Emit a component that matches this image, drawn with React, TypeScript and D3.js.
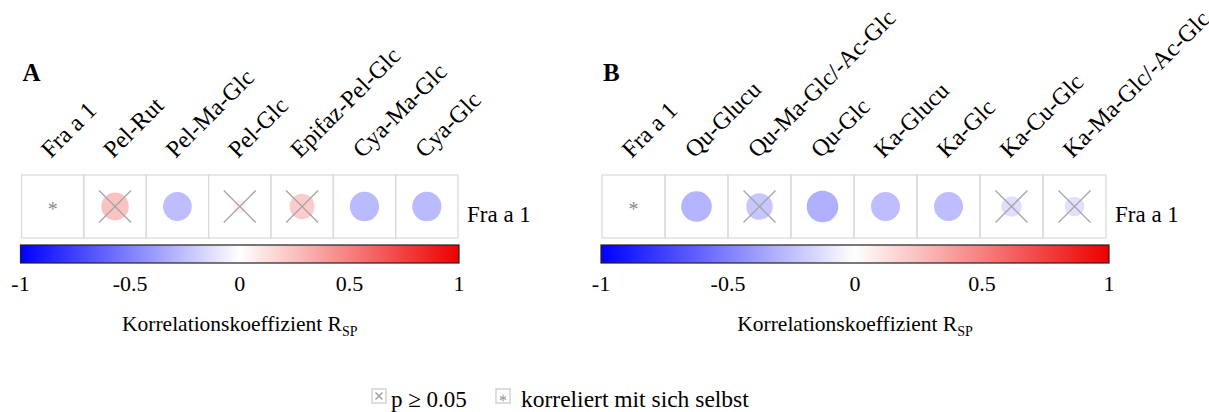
import React from "react";
import * as d3 from "d3";

const labelsA = ["Fra a 1", "Pel-Rut", "Pel-Ma-Glc", "Pel-Glc", "Epifaz-Pel-Glc", "Cya-Ma-Glc", "Cya-Glc"];
const valuesA = [1, 0.24, -0.26, 0.06, 0.2, -0.27, -0.27];
const statusA = ["self", "ns", "sig", "ns", "ns", "sig", "sig"];

const labelsB = ["Fra a 1", "Qu-Glucu", "Qu-Ma-Glc/-Ac-Glc", "Qu-Glc", "Ka-Glucu", "Ka-Glc", "Ka-Cu-Glc", "Ka-Ma-Glc/-Ac-Glc"];
const valuesB = [1, -0.29, -0.22, -0.31, -0.26, -0.26, -0.13, -0.12];
const statusB = ["self", "sig", "ns", "sig", "sig", "sig", "ns", "ns"];

const rowLabel = "Fra a 1";
const colorTicks = [-1, -0.5, 0, 0.5, 1];
const tickLabels = ["-1", "-0.5", "0", "0.5", "1"];

const FONT = "'Liberation Serif', 'Times New Roman', serif";
const color = d3.scaleLinear<string>().domain([-1, 0, 1]).range(["#0000FF", "#FFFFFF", "#EE0000"]).interpolate(d3.interpolateRgb);

type PanelProps = {
  id: string;
  letter: string;
  labels: string[];
  values: number[];
  status: string[];
  left: number;
  right: number;
  barRight: number;
};

function Panel({ id, letter, labels, values, status, left, right, barRight }: PanelProps) {
  const top = 175;
  const bottom = 238;
  const x = d3.scaleBand<string>().domain(labels).range([left, right]);
  const cw = x.bandwidth();
  const ch = bottom - top;
  const cy = (top + bottom) / 2;
  const cb = d3.scaleLinear().domain([-1, 1]).range([left - 1, barRight]);
  const gradId = "grad" + id;
  const stops = d3.range(0, 1.0001, 0.05);
  return (
    <g>
      <defs>
        <linearGradient id={gradId} x1="0" x2="1" y1="0" y2="0">
          {stops.map((s, i) => (
            <stop key={i} offset={s} stopColor={color(-1 + 2 * s)} />
          ))}
        </linearGradient>
      </defs>
      <text x={left + 1} y={81} fontFamily={FONT} fontWeight="bold" fontSize={25}>
        {letter}
      </text>
      {labels.map((l, i) => {
        const cx = (x(l) as number) + cw / 2;
        const tx = cx - 2;
        const ty = top - 16;
        return (
          <text key={"l" + i} x={tx} y={ty} fontFamily={FONT} fontSize={24} transform={`rotate(-45 ${tx} ${ty})`}>
            {l}
          </text>
        );
      })}
      {labels.map((l, i) => {
        const cx = (x(l) as number) + cw / 2;
        const v = values[i];
        const st = status[i];
        const rx = cw * 0.45 * Math.sqrt(Math.abs(v));
        const ry = ch * 0.45 * Math.sqrt(Math.abs(v));
        const h = 16;
        return (
          <g key={"c" + i}>
            {st !== "self" && <ellipse cx={cx} cy={cy} rx={rx} ry={ry} fill={color(v)} />}
            {st === "ns" && (
              <g stroke="#a6a6a6" strokeWidth={1.3}>
                <line x1={cx - h} y1={cy - h} x2={cx + h} y2={cy + h} />
                <line x1={cx - h} y1={cy + h} x2={cx + h} y2={cy - h} />
              </g>
            )}
            {st === "self" && (
              <text x={cx} y={cy + 9} textAnchor="middle" fontFamily={FONT} fontSize={20} fill="#8c8c8c">
                *
              </text>
            )}
          </g>
        );
      })}
      {labels.map((l, i) => (
        <rect key={"r" + i} x={x(l) as number} y={top} width={cw} height={ch} fill="none" stroke="#d9d9d9" strokeWidth={1.2} />
      ))}
      <text x={right + 9} y={cy + 15} fontFamily={FONT} fontSize={23}>
        {rowLabel}
      </text>
      <rect x={cb(-1)} y={245} width={cb(1) - cb(-1)} height={18} fill={`url(#${gradId})`} stroke="#222" strokeWidth={1.2} />
      {colorTicks.map((t, i) => (
        <text key={"t" + i} x={cb(t)} y={291} textAnchor="middle" fontFamily={FONT} fontSize={22}>
          {tickLabels[i]}
        </text>
      ))}
      <text x={cb(0)} y={331} textAnchor="middle" fontFamily={FONT} fontSize={21.5}>
        Korrelationskoeffizient R<tspan fontSize={14} dy={5}>SP</tspan>
      </text>
    </g>
  );
}

export default function App() {
  return (
    <svg width={1209} height={412} style={{ position: "absolute", left: 0, top: 0, background: "#fff" }}>
      <rect x={0} y={0} width={1209} height={412} fill="#fff" />
      <Panel id="A" letter="A" labels={labelsA} values={valuesA} status={statusA} left={21.5} right={458} barRight={459} />
      <Panel id="B" letter="B" labels={labelsB} values={valuesB} status={statusB} left={602} right={1106} barRight={1109} />
      <g>
        <rect x={372} y={389} width={14} height={14} fill="#fff" stroke="#c8c8c8" strokeWidth={1.2} />
        <g stroke="#a0a0a0" strokeWidth={1.5}>
          <line x1={375.5} y1={392.5} x2={382.5} y2={399.5} />
          <line x1={375.5} y1={399.5} x2={382.5} y2={392.5} />
        </g>
        <text x={391} y={407} fontFamily={FONT} fontSize={23}>
          p ≥ 0.05
        </text>
        <rect x={496} y={389} width={14} height={14} fill="#fff" stroke="#c8c8c8" strokeWidth={1.2} />
        <text x={503} y={406} textAnchor="middle" fontFamily={FONT} fontSize={16} fill="#8c8c8c">
          *
        </text>
        <text x={521} y={407} fontFamily={FONT} fontSize={23.5}>
          korreliert mit sich selbst
        </text>
      </g>
    </svg>
  );
}
